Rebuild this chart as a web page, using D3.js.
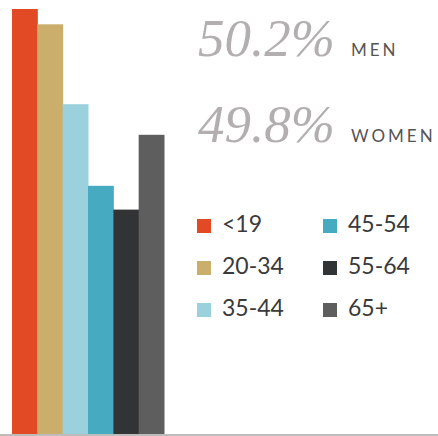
<!DOCTYPE html>
<html>
<head>
<meta charset="utf-8">
<script src="https://cdn.jsdelivr.net/npm/d3@7"></script>
<style>
  body { margin: 0; background: #fff; }
  svg { display: block; }
  .share { font-family: "Liberation Serif", serif; font-style: italic; }
</style>
</head>
<body>
<svg width="438" height="436"></svg>
<script>
// age groups and their shares (estimated from the bars)
const ageGroups = ["<19", "20-34", "35-44", "45-54", "55-64", "65+"];
const ageShares = [25.0, 24.1, 19.4, 14.6, 13.2, 17.6];
const ageColors = ["#e24a26", "#cbae6c", "#9ad1dc", "#46aac0", "#323335", "#5e5e5e"];
const legendLabels = ["<19", "20-34", "35-44", "45-54", "55-64", "65+"];
const genderLabels = ["MEN", "WOMEN"];
const genderShares = ["50.2%", "49.8%"];

const svg = d3.select("svg");
const baseY = 434;

var x = d3.scaleBand()
  .domain(ageGroups)
  .range([12, 164])
  .padding(0);

var y = d3.scaleLinear()
  .domain([0, 25])
  .range([baseY, 9]);

svg.selectAll(".bar")
  .data(ageShares)
  .enter().append("rect")
  .attr("class", "bar")
  .attr("x", (d, i) => x(ageGroups[i]))
  .attr("width", x.bandwidth() + 0.5)
  .attr("y", d => y(d))
  .attr("height", d => baseY - y(d))
  .attr("fill", (d, i) => ageColors[i]);

// baseline
svg.append("line")
  .attr("x1", 0).attr("x2", 438)
  .attr("y1", baseY + 1).attr("y2", baseY + 1)
  .attr("stroke", "#bcbcbc")
  .attr("stroke-width", 2);

// gender shares
genderShares.forEach(function(s, i){
  const by = 56 + i * 86;
  svg.append("text")
    .attr("class", "share")
    .attr("x", 198)
    .attr("y", by)
    .attr("font-size", 53)
    .attr("fill", "#b3afb1")
    .text(s);
  svg.append("text")
    .attr("x", 351)
    .attr("y", by)
    .attr("font-family", "Lato, 'Open Sans', sans-serif")
    .attr("font-size", 17)
    .attr("letter-spacing", 3)
    .attr("fill", "#555")
    .text(genderLabels[i]);
});

// legend, two columns of three
const legend = svg.selectAll(".legend")
  .data(legendLabels)
  .enter().append("g")
  .attr("class", "legend")
  .attr("transform", (d, i) => "translate(" + (197 + Math.floor(i / 3) * 126) + "," + (219 + (i % 3) * 42) + ")");

legend.append("rect")
  .attr("width", 14)
  .attr("height", 14)
  .attr("fill", (d, i) => ageColors[i]);

legend.append("text")
  .attr("x", 25)
  .attr("y", 13)
  .attr("font-family", "Lato, 'Open Sans', sans-serif")
  .attr("font-size", 23)
  .attr("fill", "#3a3a3a")
  .text(d => d);
</script>
</body>
</html>
